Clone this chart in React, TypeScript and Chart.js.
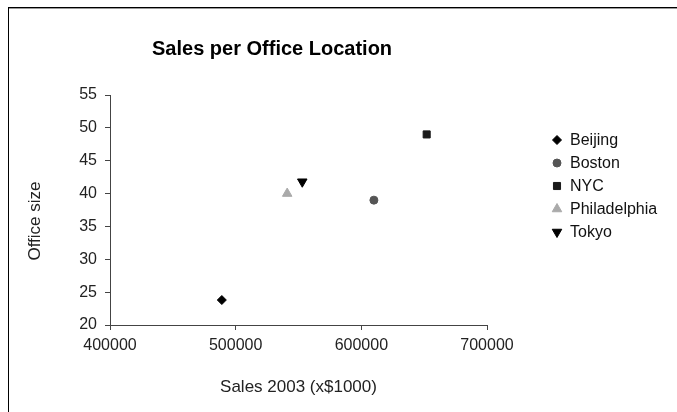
import React, { useEffect, useRef } from 'react';
import { Chart, registerables } from 'chart.js';
import { drawPoint } from 'chart.js/helpers';

Chart.register(...registerables);

const cities = ['Beijing', 'Boston', 'NYC', 'Philadelphia', 'Tokyo'];
const sales2003 = [489000, 610000, 652000, 541000, 553000];
const officeSize = [23.8, 39, 49, 40, 41.8];
const pointStyles = ['rectRot', 'circle', 'rect', 'triangle', 'triangle'];
const pointRotations = [0, 0, 0, 0, 180];
const pointRadii = [4.5, 4, 5, 5.5, 5.5];
const pointColors = ['#000000', '#555555', '#1a1a1a', '#aaaaaa', '#000000'];

const xMin = 400000;
const xMax = 700000;
const xStep = 100000;
const yMin = 20;
const yMax = 55;
const yStep = 5;

const chartTitle = 'Sales per Office Location';
const xTitle = 'Sales 2003 (x$1000)';
const yTitle = 'Office size';

const FONT = '"Liberation Sans", Arial, sans-serif';

const titleAndLegend = {
  id: 'titleAndLegend',
  afterDraw(chart: any) {
    const ctx = chart.ctx;
    ctx.save();
    ctx.fillStyle = '#000';
    ctx.font = `bold 20px ${FONT}`;
    ctx.textAlign = 'left';
    ctx.textBaseline = 'middle';
    ctx.fillText(chartTitle, 143, 41);

    // y axis title, rotated
    ctx.save();
    ctx.translate(26, 213);
    ctx.rotate(-Math.PI / 2);
    ctx.textAlign = 'center';
    ctx.fillStyle = '#222';
    ctx.font = `17px ${FONT}`;
    ctx.fillText(yTitle, 0, 0);
    ctx.restore();

    ctx.font = `16px ${FONT}`;
    ctx.textAlign = 'left';
    const startY = 132;
    const gap = 23;
    chart.data.datasets.forEach((ds: any, i: number) => {
      const y = startY + i * gap;
      ctx.fillStyle = ds.pointBackgroundColor;
      ctx.strokeStyle = ds.pointBorderColor;
      ctx.lineWidth = 1;
      drawPoint(ctx, {
        pointStyle: ds.pointStyle,
        rotation: ds.pointRotation,
        radius: ds.pointRadius,
        borderWidth: 1,
      } as any, 548, y);
      ctx.fillStyle = '#111';
      ctx.fillText(ds.label, 561, y + 1);
    });
    ctx.restore();
  },
};

export default function App() {
  const ref = useRef<HTMLCanvasElement | null>(null);

  useEffect(() => {
    if (!ref.current) return;
    const datasets = cities.map((c, i) => ({
      label: c,
      data: [{ x: sales2003[i], y: officeSize[i] }],
      pointStyle: pointStyles[i],
      pointRotation: pointRotations[i],
      pointRadius: pointRadii[i],
      pointBackgroundColor: pointColors[i],
      pointBorderColor: pointColors[i],
      pointBorderWidth: 1,
      showLine: false,
    }));
    const chart = new Chart(ref.current, {
      type: 'scatter',
      data: { datasets },
      options: {
        animation: false,
        responsive: false,
        maintainAspectRatio: false,
        devicePixelRatio: 1,
        layout: { padding: { left: 0, right: 190, top: 87, bottom: 0 } },
        plugins: {
          legend: { display: false },
          title: { display: false },
          tooltip: { enabled: false },
        },
        scales: {
          x: {
            type: 'linear',
            min: xMin,
            max: xMax,
            afterFit: (s: any) => { s.height = 87; },
            ticks: {
              stepSize: xStep,
              padding: 6,
              color: '#222',
              font: { family: FONT, size: 16 },
              callback: (v: any) => String(v),
            },
            grid: { display: true, drawOnChartArea: false, drawTicks: true, tickLength: 5, color: '#444' },
            border: { display: true, color: '#444', width: 1 },
            title: {
              display: true,
              text: xTitle,
              color: '#222',
              font: { family: FONT, size: 17 },
              padding: { top: 0, bottom: 14 },
            },
          },
          y: {
            type: 'linear',
            min: yMin,
            max: yMax,
            afterFit: (s: any) => { s.width = 101; },
            ticks: {
              stepSize: yStep,
              padding: 8,
              color: '#222',
              font: { family: FONT, size: 16 },
            },
            grid: { display: true, drawOnChartArea: false, drawTicks: true, tickLength: 5, color: '#444' },
            border: { display: true, color: '#444', width: 1 },
            title: { display: false, text: yTitle },
          },
        },
      },
      plugins: [titleAndLegend],
    });
    return () => chart.destroy();
  }, []);

  return (
    <div
      style={{
        position: 'fixed',
        left: 8,
        top: 7,
        width: 669,
        height: 405,
        borderTop: '1px solid #000',
        borderLeft: '1px solid #000',
        boxShadow: 'inset 0 1px 0 #999',
        background: '#fff',
        boxSizing: 'border-box',
      }}
    >
      <canvas ref={ref} width={668} height={404} style={{ display: 'block', width: 668, height: 404 }} />
    </div>
  );
}
